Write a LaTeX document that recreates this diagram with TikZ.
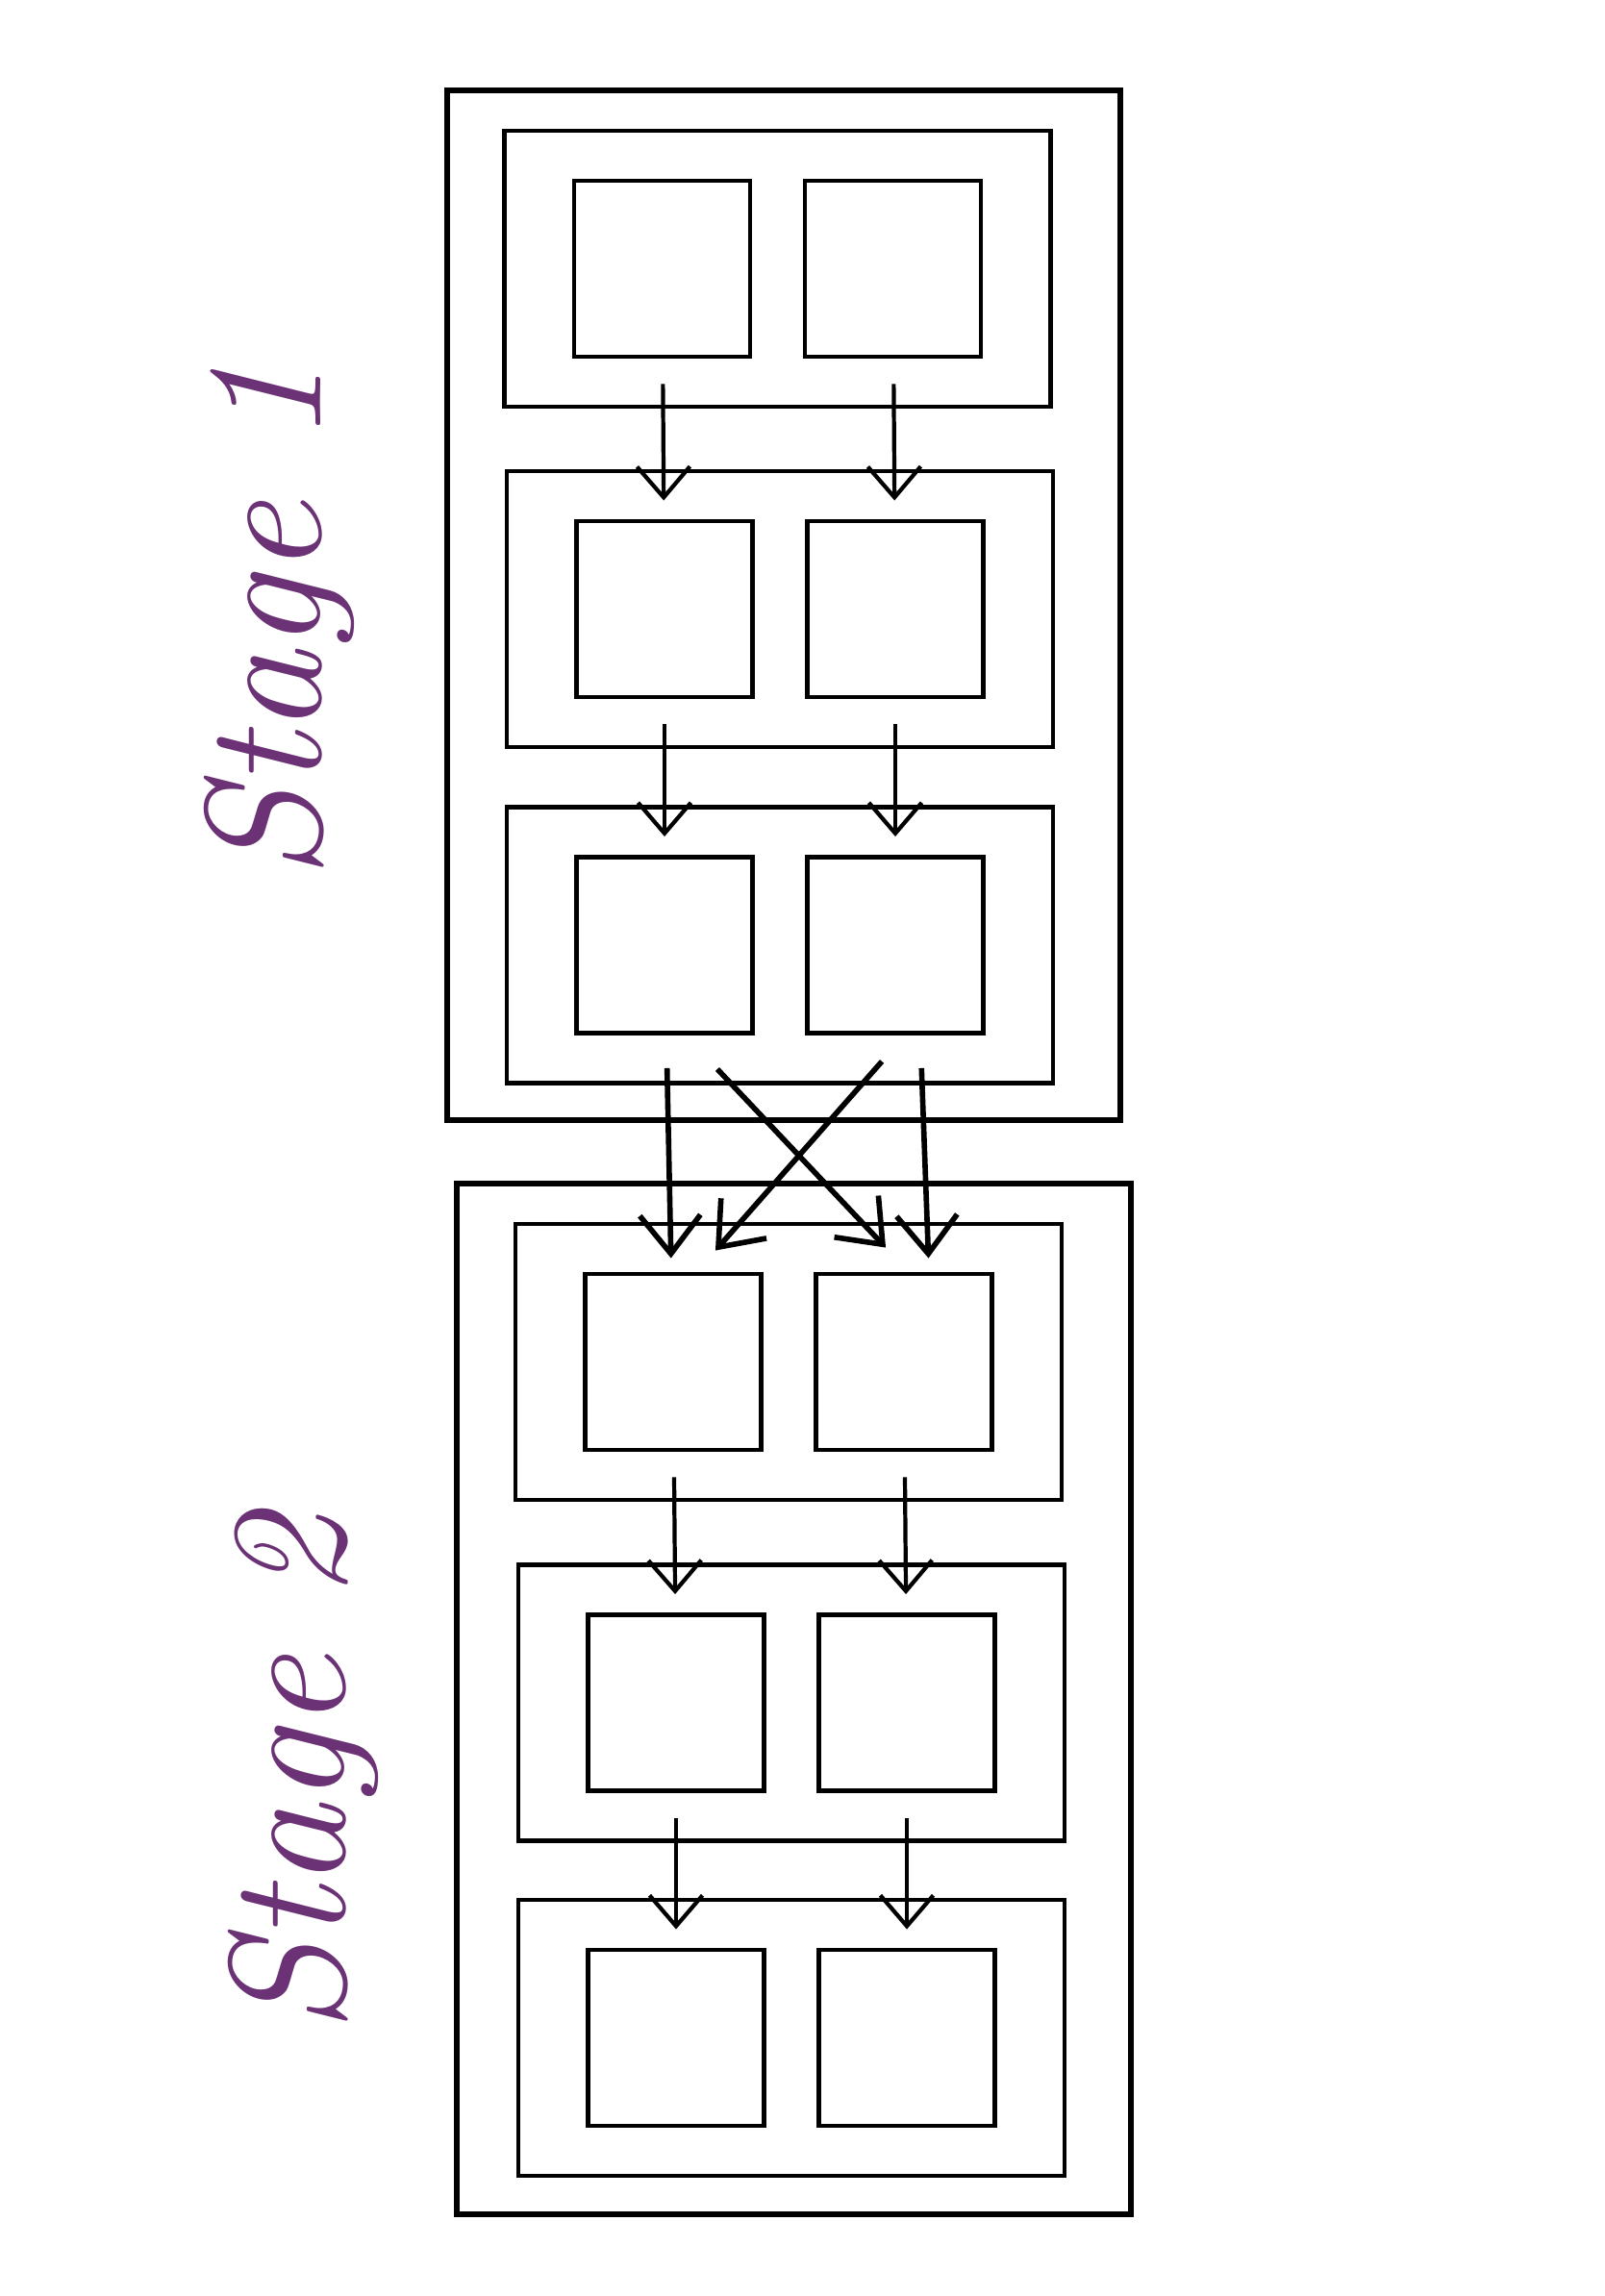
\documentclass[tikz,border=0pt]{standalone}
\usetikzlibrary{arrows.meta}
\definecolor{stagepurple}{RGB}{108,50,118}
\tikzstyle{stagebox} = [draw, line width=1.5pt, inner sep=0cm]
\tikzstyle{rowbox} = [draw, line width=1.4pt, minimum width=5.68cm, minimum height=2.87cm, inner sep=0cm]
\tikzstyle{cellbox} = [draw, line width=1.4pt, minimum size=1.83cm, inner sep=0cm]
\tikzstyle{flow} = [draw, line width=1.2pt, -{Straight Barb[length=3.2mm,width=5.5mm]}, shorten <=2.6mm, shorten >=1.9mm]
\tikzstyle{bigflow} = [flow, line width=1.6pt, -{Straight Barb[length=4mm,width=6.3mm]}]
\tikzstyle{stagelabel} = [text=stagepurple, font=\fontsize{49}{56}\selectfont\itshape, rotate=90]
\newcommand{\stagerow}[3]{
  \node[rowbox] (#1) at (#2,#3) {};
  \node[cellbox] (#1-a) at ([xshift=-1.2cm] #1.center) {};
  \node[cellbox] (#1-b) at ([xshift=1.2cm] #1.center) {};
}

\begin{document}
\begin{tikzpicture}
\useasboundingbox (0,0) rectangle (16.68,-23.88);
\node[stagebox, minimum width=7cm, minimum height=10.71cm] (s1) at (8.15,-6.295) {};
\node[stagebox, minimum width=7.01cm, minimum height=10.72cm] (s2) at (8.255,-17.67) {};
\stagerow{r1}{8.085}{-2.795}
\stagerow{r2}{8.11}{-6.335}
\stagerow{r3}{8.11}{-9.83}
\stagerow{r4}{8.2}{-14.165}
\stagerow{r5}{8.23}{-17.71}
\stagerow{r6}{8.23}{-21.195}

\node[stagelabel] (l1) at (2.9,-6.45) {Stage 1};
\node[stagelabel] (l2) at (3.15,-18.45) {Stage 2};

\draw[flow] (r1-a) -- (r2-a);
\draw[flow] (r1-b) -- (r2-b);
\draw[flow] (r2-a) -- (r3-a);
\draw[flow] (r2-b) -- (r3-b);
\draw[bigflow, shorten <=3.4mm, shorten >=1.4mm] (r3-a) -- (r4-a);
\draw[bigflow, shorten <=3.4mm, shorten >=1.4mm] ([xshift=0.26cm] r3-b.south) -- ([xshift=0.26cm] r4-b.north);
\draw[bigflow, shorten <=0mm, shorten >=0mm] ([xshift=-0.39cm,yshift=-0.35cm] r3-a.south east) -- ([xshift=0.75cm,yshift=0.25cm] r4-b.north west);
\draw[bigflow, shorten <=0mm, shorten >=0mm] ([xshift=0.8cm,yshift=-0.27cm] r3-b.south west) -- ([xshift=-0.5cm,yshift=0.22cm] r4-a.north east);
\draw[flow] (r4-a) -- (r5-a);
\draw[flow] (r4-b) -- (r5-b);
\draw[flow] (r5-a) -- (r6-a);
\draw[flow] (r5-b) -- (r6-b);
\end{tikzpicture}
\end{document}
